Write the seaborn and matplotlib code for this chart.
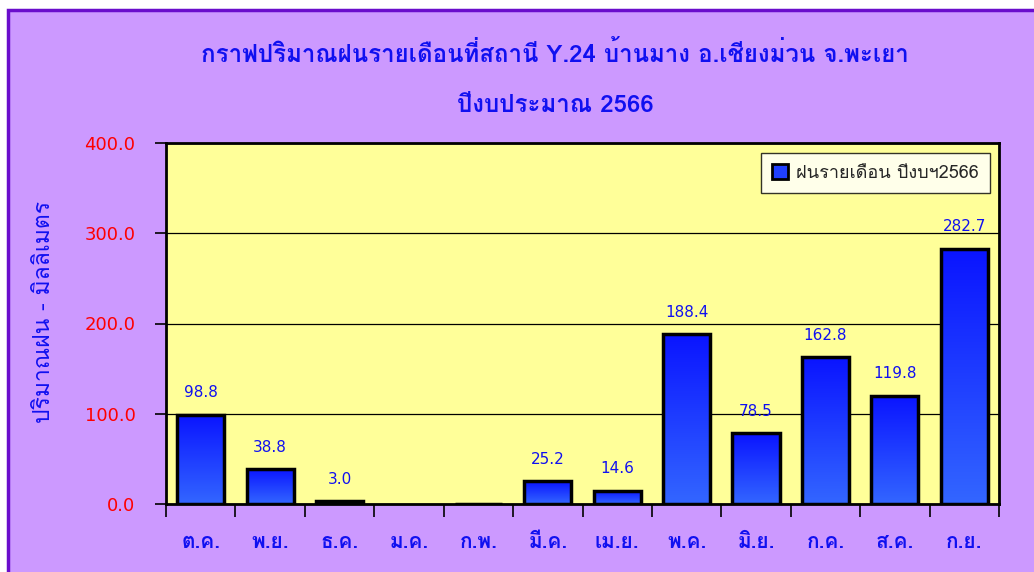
import matplotlib
matplotlib.use("Agg")
import numpy as np
import pandas as pd
import matplotlib.pyplot as plt
import seaborn as sns
from matplotlib.colors import LinearSegmentedColormap
from matplotlib.patches import Rectangle

# monthly rainfall, fiscal year 2566 (Oct - Sep)
months = ["ต.ค.", "พ.ย.", "ธ.ค.", "ม.ค.", "ก.พ.", "มี.ค.",
          "เม.ย.", "พ.ค.", "มิ.ย.", "ก.ค.", "ส.ค.", "ก.ย."]
rain_mm = [98.8, 38.8, 3.0, np.nan, 0.3, 25.2,
           14.6, 188.4, 78.5, 162.8, 119.8, 282.7]
bar_labels = ["98.8", "38.8", "3.0", "", "", "25.2",
              "14.6", "188.4", "78.5", "162.8", "119.8", "282.7"]
y_ticks = [0, 100, 200, 300, 400]

title = "กราฟปริมาณฝนรายเดือนที่สถานี Y.24 บ้านมาง อ.เชียงม่วน จ.พะเยา\n\nปีงบประมาณ 2566"
y_label = "ปริมาณฝน - มิลลิเมตร"
series_name = "ฝนรายเดือน ปีงบฯ2566"

FONT = ["Loma", "DejaVu Sans"]
NUM_FONT = "DejaVu Sans"
PURPLE = "#CC99FF"
YELLOW = "#FFFF99"
BLUE_TXT = "#1010F0"

sns.set_theme(style="white")
plt.rcParams["font.family"] = FONT

df = pd.DataFrame({"month": months, "rain": rain_mm})

fig = plt.figure(figsize=(10.34, 5.72), dpi=100)
fig.patch.set_facecolor("white")
# purple chart area with dark border
fig.patches.append(Rectangle((8 / 1034, -0.01), 1.02, 1 - 10 / 572 + 0.01,
                             transform=fig.transFigure, facecolor=PURPLE,
                             edgecolor="#6A0DCC", linewidth=2.5, zorder=-10))

ax = fig.add_axes([166 / 1034, 1 - 504 / 572, (999 - 166) / 1034, (504 - 143) / 572])
ax.set_facecolor(YELLOW)

sns.barplot(data=df, x="month", y="rain", ax=ax, width=0.68, color="#2040FF",
            edgecolor="black", linewidth=2.5, zorder=3, label=series_name)

# gradient fill inside each bar
cmap = LinearSegmentedColormap.from_list("bar", ["#3366FF", "#0A14FF"])
grad = np.linspace(0, 1, 256).reshape(-1, 1)
for p in ax.patches:
    h = p.get_height()
    if not np.isfinite(h) or h <= 0:
        continue
    x0 = p.get_x()
    im = ax.imshow(grad, cmap=cmap, aspect="auto", origin="lower",
                   extent=(x0, x0 + p.get_width(), 0, h), zorder=3.5)
    im.set_clip_path(p)
    p.set_facecolor("none")
    p.set_zorder(4)

for i, (v, lab) in enumerate(zip(rain_mm, bar_labels)):
    if lab:
        ax.text(i, v + 16, lab, ha="center", va="bottom", color=BLUE_TXT,
                fontsize=11, family=NUM_FONT, zorder=5)

ax.set_xlim(-0.5, len(months) - 0.5)
ax.set_ylim(0, 400)
ax.set_yticks(y_ticks)
ax.set_yticklabels([f"{t:.1f}" for t in y_ticks], color="red", fontsize=13,
                   family=NUM_FONT)
ax.yaxis.grid(True, color="black", linewidth=0.9)
ax.set_axisbelow(True)
for s in ax.spines.values():
    s.set_color("black")
    s.set_linewidth(2)
ax.tick_params(axis="y", which="major", direction="out", length=8, width=1.2,
               color="black", left=True, pad=14)

# category labels centred, ticks on category boundaries
ax.set_xticks(range(len(months)))
ax.set_xticklabels(months, color=BLUE_TXT, fontsize=15, fontweight="bold")
ax.tick_params(axis="x", which="major", length=0, pad=21)
ax.set_xticks(np.arange(-0.5, len(months)), minor=True)
ax.tick_params(axis="x", which="minor", direction="out", length=9, width=1.2,
               color="black", bottom=True)
ax.set_xlabel("")
ax.set_ylabel("")

fig.text(45 / 1034, 1 - 312 / 572, y_label, rotation=90, ha="center", va="center",
         color=BLUE_TXT, fontsize=16.5)
fig.text(555 / 1034, 1 - 79 / 572, title, ha="center", va="center",
         color=BLUE_TXT, fontsize=17.3, fontweight="bold", linespacing=1.12)

leg = ax.legend(loc="upper right", bbox_to_anchor=(0.989, 0.972), borderaxespad=0,
                frameon=True, fancybox=False, fontsize=13, handlelength=0.9,
                handleheight=0.9, handletextpad=0.45, borderpad=0.6)
leg.get_frame().set_edgecolor("black")
leg.get_frame().set_linewidth(1)
leg.get_frame().set_facecolor("white")
for h in leg.legend_handles:
    h.set_facecolor("#2040FF")
    h.set_edgecolor("black")
    h.set_linewidth(2)

fig.savefig("out.png", dpi=100, facecolor=fig.get_facecolor())
